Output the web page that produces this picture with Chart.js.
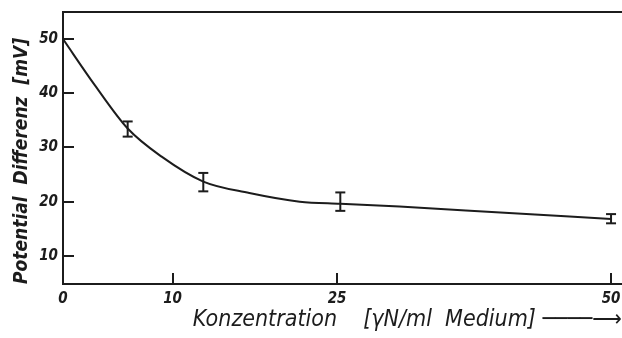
<!DOCTYPE html>
<html>
<head>
<meta charset="utf-8">
<script src="https://cdn.jsdelivr.net/npm/chart.js@4.4.1/dist/chart.umd.min.js"></script>
<style>
  html, body { margin: 0; padding: 0; background: #fff; }
  canvas { display: block; }
</style>
</head>
<body>
<canvas id="c" width="622" height="338"></canvas>
<script>
// fitted curve
const curveX = [0, 2.9, 5.9, 9, 12.8, 17, 21.6, 25.3, 30.7, 39.9, 50];
const curveY = [50, 41.5, 33.5, 28.3, 23.7, 21.6, 20.0, 19.6, 19.1, 18.0, 16.8];
// measured points with error bars
const errX  = [5.9, 12.8, 25.3, 50];
const errLo = [32.0, 21.9, 18.3, 16.0];
const errHi = [34.8, 25.3, 21.7, 17.7];
// tick labels
const xTicks = [0, 10, 25, 50];
const yTicks = [10, 20, 30, 40, 50];

const INK = '#1c1c1c';
const FONT = "'Liberation Sans Narrow', 'DejaVu Sans Condensed', 'DejaVu Sans', sans-serif";

const datasets = [{
  data: curveX.map((x, i) => ({x, y: curveY[i]})),
  borderColor: INK,
  borderWidth: 2,
  pointRadius: 0,
  cubicInterpolationMode: 'monotone',
  fill: false
}];
errX.forEach((x, i) => {
  datasets.push({
    data: [{x, y: errLo[i]}, {x, y: errHi[i]}],
    borderColor: INK,
    borderWidth: 2,
    pointStyle: 'line',
    pointRadius: 5,
    pointBorderWidth: 2,
    pointBorderColor: INK,
    fill: false,
    clip: false
  });
});

const noPad = s => { s.paddingLeft = 0; s.paddingRight = 0; s.paddingTop = 0; s.paddingBottom = 0; };

new Chart(document.getElementById('c'), {
  type: 'line',
  data: { datasets },
  options: {
    responsive: false,
    animation: false,
    layout: { autoPadding: false, padding: { top: 12, right: 0, left: 0, bottom: 0 } },
    plugins: { legend: { display: false }, tooltip: { enabled: false } },
    scales: {
      x: {
        type: 'linear', min: 0, max: 51,
        afterBuildTicks: s => { s.ticks = xTicks.map(v => ({value: v})); },
        afterFit: s => { s.height = 54; noPad(s); },
        border: { color: INK, width: 2 },
        grid: { drawOnChartArea: false, drawTicks: true, tickLength: -11, color: INK, lineWidth: 2 },
        ticks: { padding: 17, color: INK, maxRotation: 0, font: { family: FONT, size: 15, style: 'italic', weight: 'bold' } },
        title: {
          display: true, align: 'end',
          text: 'Konzentration    [γN/ml  Medium] ────⟶',
          color: INK, padding: { top: 0, bottom: 4 },
          font: { family: FONT, size: 23, style: 'italic' }
        }
      },
      x2: {
        type: 'linear', min: 0, max: 51, position: 'top',
        afterFit: s => { s.height = 0; noPad(s); },
        border: { color: INK, width: 2 },
        grid: { display: false, drawTicks: false },
        ticks: { display: false }
      },
      y: {
        type: 'linear', min: 4.8, max: 55,
        afterBuildTicks: s => { s.ticks = yTicks.map(v => ({value: v})); },
        afterFit: s => { s.width = 63; noPad(s); },
        border: { color: INK, width: 2 },
        grid: { drawOnChartArea: false, drawTicks: true, tickLength: -11, color: INK, lineWidth: 2 },
        ticks: { padding: 16, color: INK, font: { family: FONT, size: 15, style: 'italic', weight: 'bold' } },
        title: {
          display: true, align: 'start',
          text: 'Potential  Differenz  [mV]',
          color: INK, padding: { top: 11, bottom: 0 },
          font: { family: FONT, size: 19, style: 'italic', weight: 'bold' }
        }
      }
    }
  }
});
</script>
</body>
</html>
